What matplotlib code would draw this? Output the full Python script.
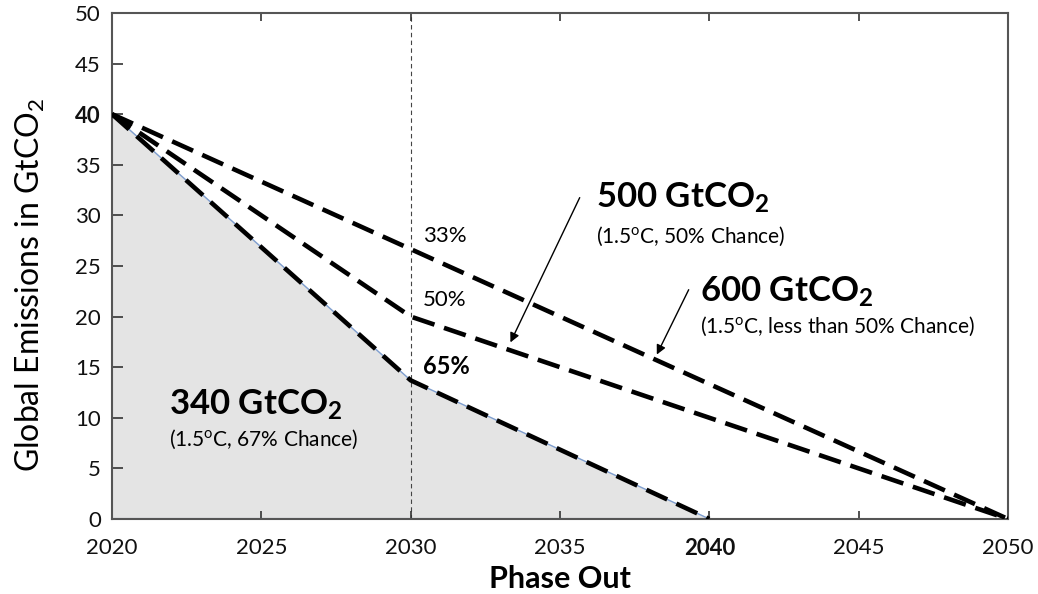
import matplotlib
matplotlib.use("Agg")
import matplotlib.pyplot as plt

plt.rcParams['font.family'] = ['Lato', 'DejaVu Sans']
plt.rcParams['mathtext.fontset'] = 'custom'
plt.rcParams['mathtext.rm'] = 'Lato'
plt.rcParams['mathtext.it'] = 'Lato:italic'
plt.rcParams['mathtext.bf'] = 'Lato:bold'

# Data
years_340 = [2020, 2030, 2040]
emis_340 = [40, 13.7, 0]
years_500 = [2020, 2030, 2050]
emis_500 = [40, 20, 0]
years_600 = [2020, 2050]
emis_600 = [40, 0]
x_ticks = [2020, 2025, 2030, 2035, 2040, 2045, 2050]
y_ticks = [0, 5, 10, 15, 20, 25, 30, 35, 40, 45, 50]

fig = plt.figure(figsize=(10.38, 5.94), dpi=100)
ax = fig.add_axes([0.1079, 0.1263, 0.8632, 0.8519])

ax.fill_between(years_340, emis_340, 0, color='#e4e4e4', zorder=1)
ax.plot(years_340, emis_340, color='#7f9fd0', lw=1.0, zorder=2)
ax.plot([2020, 2040], [0, 0], color='#4a6fa5', lw=1.5, zorder=2)

ax.axvline(2030, color='#444444', lw=0.8, ls=(0, (4, 3)), zorder=1.5)

dash = (0, (5, 2.2))
ax.plot(years_600, emis_600, color='black', lw=3.3, ls=dash, zorder=3)
ax.plot(years_500, emis_500, color='black', lw=3.3, ls=dash, zorder=3)
ax.plot(years_340, emis_340, color='black', lw=3.3, ls=dash, zorder=3)

ax.set_xlim(2020, 2050)
ax.set_ylim(0, 50)
ax.set_xticks(x_ticks)
ax.set_yticks(y_ticks)
ax.set_xticklabels([str(v) for v in x_ticks], fontsize=16)
ax.set_yticklabels([str(v) for v in y_ticks], fontsize=16)
for lab in ax.get_xticklabels():
    if lab.get_text() == '2040':
        lab.set_fontweight('bold')
for lab in ax.get_yticklabels():
    if lab.get_text() == '40':
        lab.set_fontweight('bold')
ax.tick_params(axis='x', direction='in', top=True, length=6, width=1.2, pad=14, colors='#333333', labelcolor='#111111')
ax.tick_params(axis='y', direction='in', length=8, width=1.2, pad=8, colors='#333333', labelcolor='#111111')
for s in ax.spines.values():
    s.set_color('#555555')
    s.set_linewidth(1.5)

ax.set_xlabel('Phase Out', fontsize=22, fontweight='bold', labelpad=4)
ax.set_ylabel(r'Global Emissions in GtCO$_2$', fontsize=23)
ax.yaxis.set_label_coords(-0.072, 0.462)

ax.text(2030.4, 28.0, '33%', fontsize=16, ha='left', va='center')
ax.text(2030.4, 21.6, '50%', fontsize=16, ha='left', va='center')
ax.text(2030.4, 15.1, '65%', fontsize=17, fontweight='bold', ha='left', va='center')

ax.text(2021.9, 11.3, r'340 GtCO$_\mathbf{2}$', fontsize=25, fontweight='bold', ha='left', va='center')
ax.text(2021.9, 7.9, r'(1.5$^{\mathrm{o}}$C, 67% Chance)', fontsize=15, ha='left', va='center')

ax.text(2036.2, 31.7, r'500 GtCO$_\mathbf{2}$', fontsize=25, fontweight='bold', ha='left', va='center')
ax.text(2036.2, 27.9, r'(1.5$^{\mathrm{o}}$C, 50% Chance)', fontsize=15, ha='left', va='center')

ax.text(2039.7, 22.4, r'600 GtCO$_\mathbf{2}$', fontsize=25, fontweight='bold', ha='left', va='center')
ax.text(2039.7, 19.0, r'(1.5$^{\mathrm{o}}$C, less than 50% Chance)', fontsize=15, ha='left', va='center')

arrow = dict(arrowstyle='-|>', color='black', lw=1.0, mutation_scale=14)
ax.annotate('', xy=(2033.3, 17.2), xytext=(2035.7, 32.0), arrowprops=arrow)
ax.annotate('', xy=(2038.2, 16.0), xytext=(2039.35, 22.9), arrowprops=arrow)

fig.savefig('out.png', dpi=100)
